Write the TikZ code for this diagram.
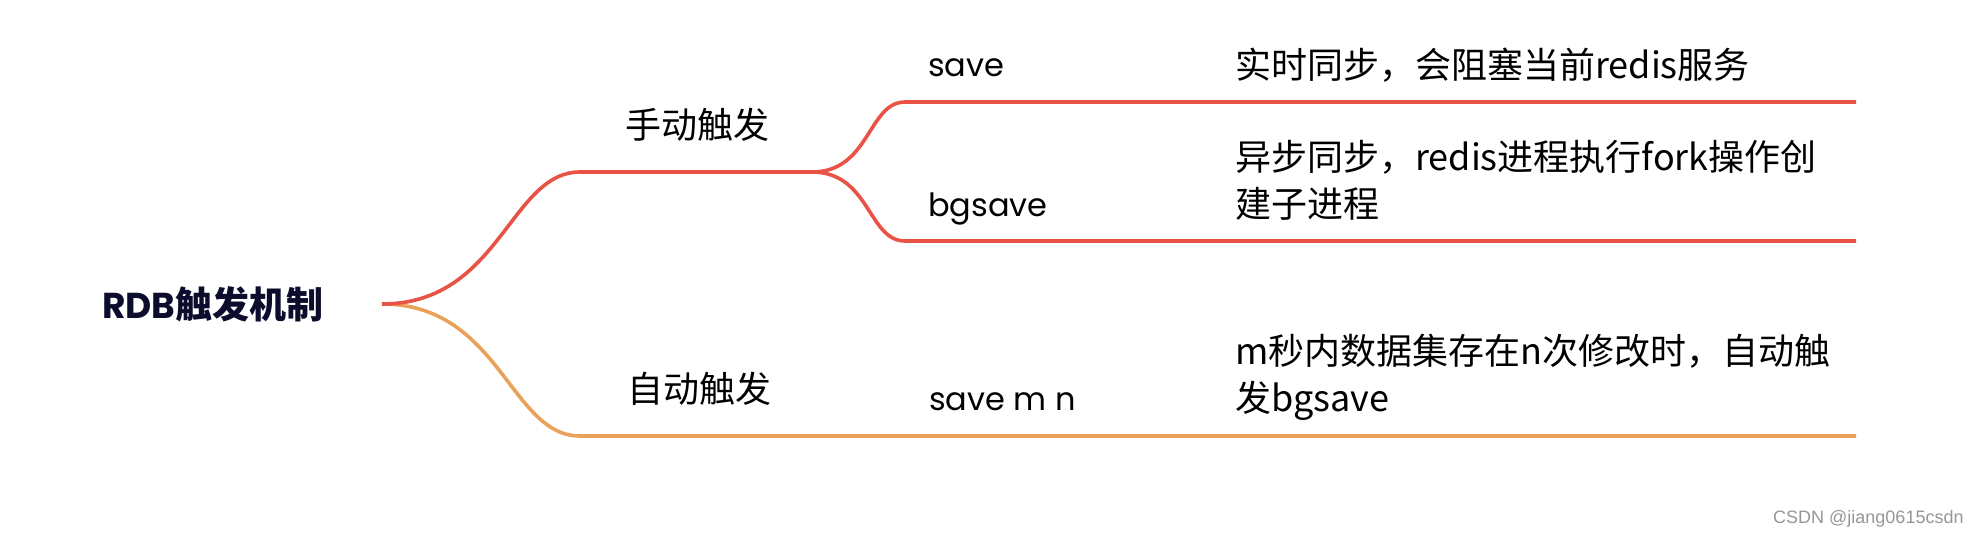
\documentclass[tikz,border=0pt]{standalone}
\usepackage{fontspec}
\setmainfont{Poppins}
\newfontfamily\cjk{Noto Sans CJK SC}
\newfontfamily\wmfont{Liberation Sans}
\definecolor{redline}{RGB}{232,83,70}
\definecolor{orangeline}{RGB}{234,161,90}
\definecolor{rootcol}{RGB}{12,12,44}
\definecolor{wmgray}{RGB}{150,150,150}
\tikzset{
  branch/.style={line width=3.6pt, line cap=butt},
  txt/.style={inner sep=0pt, anchor=base west, text=black},
  cjktext/.style={txt, font=\cjk\fontsize{36pt}{47pt}\selectfont, align=left},
  keytext/.style={txt, font=\fontsize{32pt}{40pt}\selectfont},
}
\begin{document}
\begin{tikzpicture}[x=1pt,y=-1pt]
\useasboundingbox (0,0) rectangle (1980,536);
% texts
\node[txt, text=rootcol, font=\fontsize{36pt}{40pt}\selectfont\bfseries] (root) at (102,318) {RDB{\cjk\fontsize{37pt}{40pt}\selectfont\bfseries 触发机制}};
\node[cjktext] (manual) at (625,138) {手动触发};
\node[cjktext] (auto) at (627,402) {自动触发};
\node[keytext] (save) at (928,76) {save};
\node[keytext] (bgsave) at (928,216) {bgsave};
\node[keytext] (savemn) at (929,410) {save m n};
\node[cjktext] (d1) at (1235,78) {实时同步，会阻塞当前redis服务};
\node[cjktext] (d2) at (1235,217) {异步同步，redis进程执行fork操作创\\建子进程};
\node[cjktext] (d3) at (1235,411) {m秒内数据集存在n次修改时，自动触\\发bgsave};
\node[inner sep=0pt, anchor=base west, text=wmgray, font=\wmfont\fontsize{18pt}{20pt}\selectfont] (wm) at (1773,523) {CSDN @jiang0615csdn};
% connector points
\coordinate (r) at (382,304);
\coordinate (m1) at (580,172);
\coordinate (j1) at (812,172);
\coordinate (s1) at (905,102);
\coordinate (s1e) at (1856,102);
\coordinate (s2) at (905,241);
\coordinate (s2e) at (1856,241);
\coordinate (m2) at (580,436);
\coordinate (m2e) at (1856,436);
% lower (orange) branch
\draw[branch, orangeline] (r) .. controls (500,304) and (510,436) .. (m2) -- (m2e);
% upper (red) branch
\draw[branch, redline] (r) .. controls (500,304) and (510,172) .. (m1) -- (j1);
\draw[branch, redline] (j1) .. controls (870,172) and (868,102) .. (s1) -- (s1e);
\draw[branch, redline] (j1) .. controls (870,172) and (868,241) .. (s2) -- (s2e);
\end{tikzpicture}
\end{document}
